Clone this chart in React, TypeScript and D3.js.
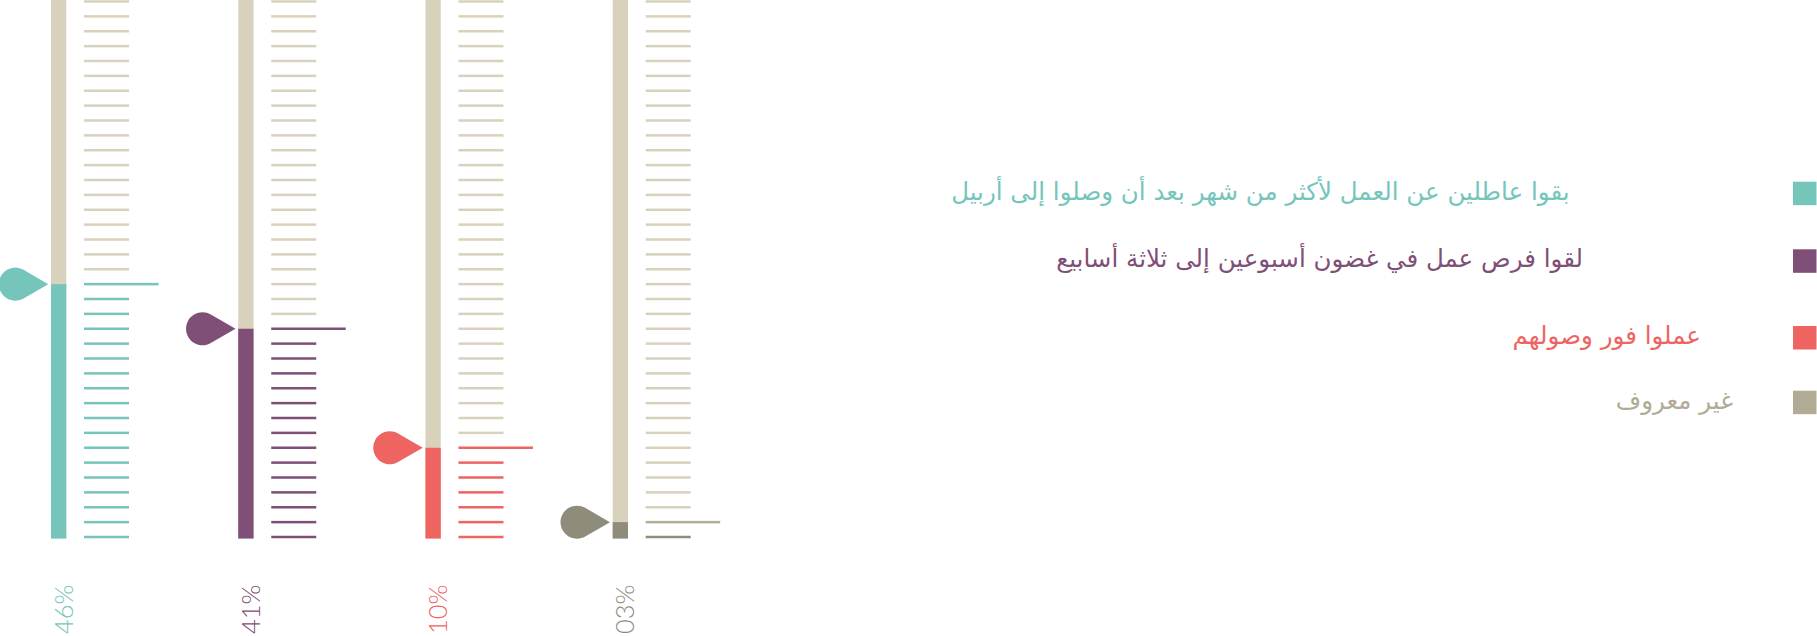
import React from "react";
import * as d3 from "d3";

// ---- data ----
const labels = ["46%", "41%", "10%", "03%"];
const values = [46, 41, 10, 3];
// level of each marker, counted in tick steps above the base line
const levels = [17, 14, 6, 1];
const legendLabels = [
  "بقوا عاطلين عن العمل لأكثر من شهر بعد أن وصلوا إلى أربيل",
  "لقوا فرص عمل في غضون أسبوعين إلى ثلاثة أسابيع",
  "عملوا فور وصولهم",
  "غير معروف",
];
const colors = ["#76c5bb", "#7f4f77", "#ee6461", "#8f8c7c"];
const highlightColors = ["#76c5bb", "#7f4f77", "#ee6461", "#b3ad98"];
const legendColors = ["#76c5bb", "#7f4f77", "#ee6461", "#b1ab96"];
const tickCount = 36;

// ---- layout ----
const W = 1817;
const H = 636;
const BEIGE = "#d8d2bc";
const barW = 15.3;
const legendRight = [1569.6, 1583, 1701, 1733];
const legendTop = [181.7, 249.3, 326, 390.7];

export default function App() {
  const x = d3.scalePoint<string>().domain(labels).range([51, 612.7]);
  const y = d3.scaleLinear().domain([0, tickCount]).range([537, 1.5]);
  const ticks = d3.range(0, tickCount + 1);
  const r = 16.5;
  const tx = -r * 1.5;
  const ty = r * Math.sin(Math.PI / 3);
  const pointer = `M0,0 L${tx},${-ty} A${r},${r} 0 1,0 ${tx},${ty} Z`;

  return (
    <svg
      width={W}
      height={H}
      style={{ position: "absolute", left: 0, top: 0 }}
      xmlns="http://www.w3.org/2000/svg"
    >
      {labels.map((lab, i) => {
        const bx = x(lab)!;
        const ly = y(levels[i]);
        return (
          <g key={lab}>
            <rect x={bx} y={y(tickCount) - 1.5} width={barW} height={y(0) - y(tickCount) + 3} fill={BEIGE} />
            <rect x={bx} y={ly} width={barW} height={y(0) + 1.5 - ly} fill={colors[i]} />
            {ticks.map((t) => {
              const isLevel = t === levels[i];
              const below = t < levels[i];
              return (
                <rect
                  key={t}
                  x={bx + 33}
                  y={y(t) - 1.25}
                  width={isLevel ? 74.5 : 45}
                  height={2.5}
                  fill={isLevel ? highlightColors[i] : below ? colors[i] : BEIGE}
                />
              );
            })}
            <path d={pointer} transform={`translate(${bx - 2.7},${ly})`} fill={colors[i]} />
            <text
              transform={`translate(${bx + 21.5},634) rotate(-90)`}
              textAnchor="start"
              fontFamily="Lato, 'Open Sans', sans-serif"
              fontWeight={300}
              fontSize={25.5}
              fill={colors[i]}
              data-value={values[i]}
            >
              {lab}
            </text>
          </g>
        );
      })}
      {legendLabels.map((t, i) => (
        <g key={i}>
          <rect x={1793} y={legendTop[i]} width={23.5} height={23.5} fill={legendColors[i]} />
          <text
            x={legendRight[i]}
            y={legendTop[i] + 18}
            textAnchor="end"
            fontFamily="'DejaVu Sans', sans-serif"
            fontSize={24.5}
            fill={legendColors[i]}
          >
            {t}
          </text>
        </g>
      ))}
    </svg>
  );
}
